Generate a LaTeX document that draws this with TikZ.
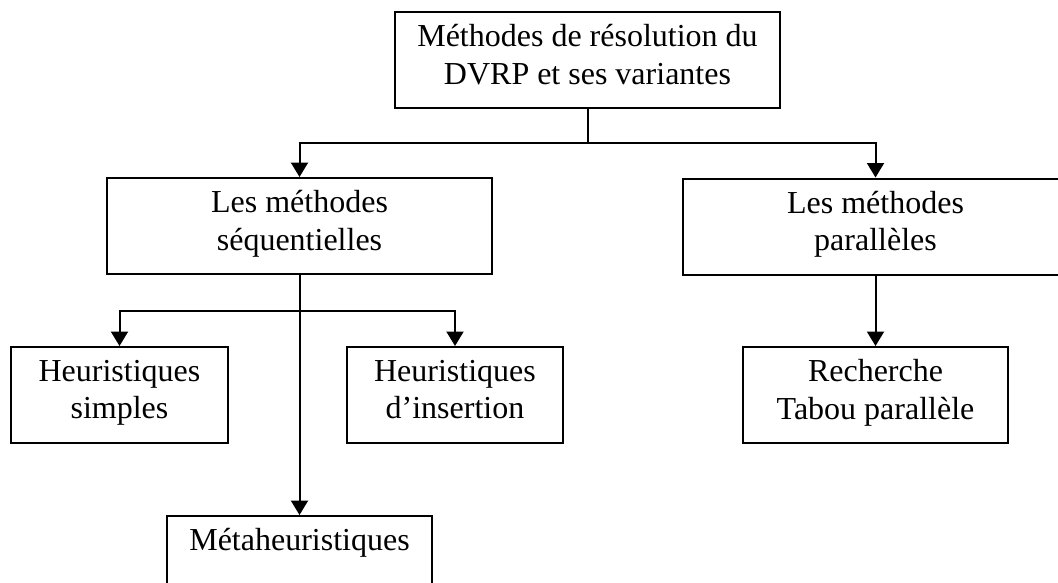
\documentclass[tikz,border=0pt]{standalone}
\usepackage{fontspec}
\setmainfont{Liberation Serif}
\usetikzlibrary{arrows.meta}
\tikzset{
  >={Triangle[width=6.8pt,length=5.8pt]},
  every node/.style={font=\fontsize{12.8}{15}\selectfont},
  box/.style={draw,line width=0.8pt,align=center,minimum height=38.4pt,inner sep=2pt,
    execute at begin node=\strut,execute at end node=\strut},
  widebox/.style={box,minimum width=154pt},
  leafbox/.style={box,minimum width=106pt},
  link/.style={line width=0.8pt},
  arrow/.style={->,line width=0.8pt},
}

\begin{document}
\begin{tikzpicture}[x=0.4pt,y=-0.4pt]
\useasboundingbox (0,0) rectangle (1058,582);
\clip (0,0) rectangle (1058,582);

\node[widebox] (root) at (587.5,60) {Méthodes de résolution du\\DVRP et ses variantes};
\node[widebox] (seq) at (299.5,226) {Les méthodes\\séquentielles};
\node[widebox] (par) at (875.5,226.5) {Les méthodes\\parallèles};
\node[box,minimum width=86.8pt] (simple) at (119.5,395) {Heuristiques\\simples};
\node[box,minimum width=86.4pt] (insert) at (455,395) {Heuristiques\\d’insertion};
\node[leafbox] (tabou) at (875.5,395) {Recherche\\Tabou parallèle};
\node[leafbox] (meta) at (299.5,564) {Métaheuristiques\\};

% root splits into the two families
\coordinate (forkroot) at (587.5,143);
\draw[link] (root.south) -- (forkroot);
\draw[arrow] (forkroot) -| (seq.north);
\draw[arrow] (forkroot) -| (par.north);

% sequential methods
\coordinate (forkseq) at (299.5,311);
\draw[link] (seq.south) -- (forkseq);
\draw[arrow] (forkseq) -| (simple.north);
\draw[arrow] (forkseq) -| (insert.north);
\draw[arrow] (forkseq) -- (meta.north);

% parallel methods
\draw[arrow] (par) -- (tabou);

\end{tikzpicture}
\end{document}
